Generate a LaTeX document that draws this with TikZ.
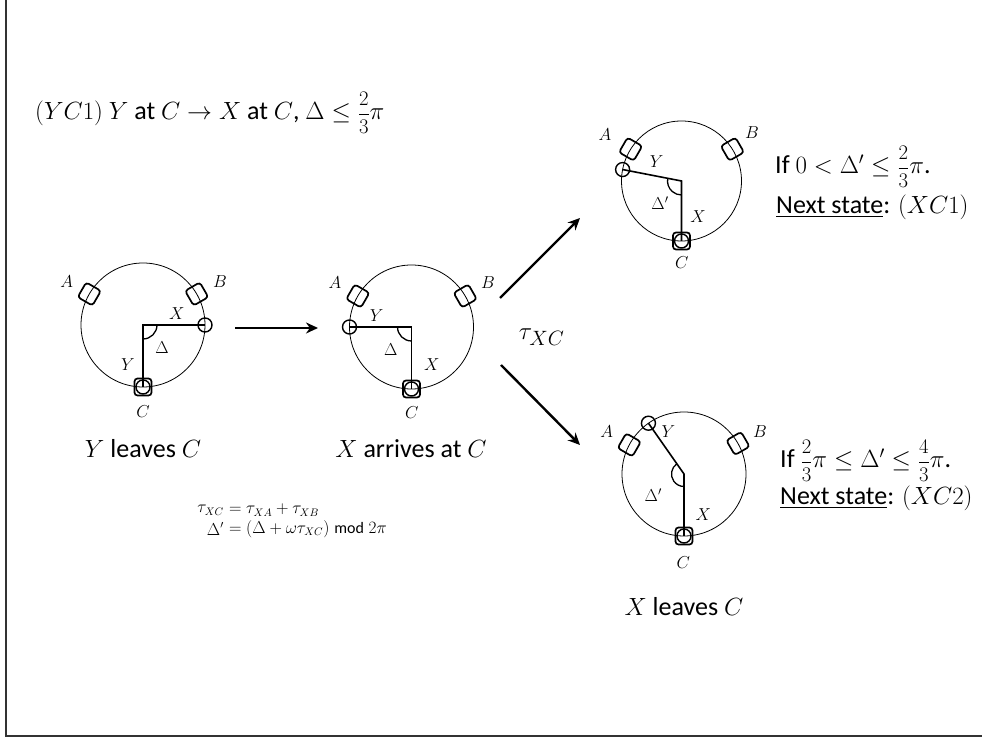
\documentclass[tikz,border=0pt]{standalone}
\usepackage{fontspec}
\setmainfont{Carlito}
\usepackage{amsmath}
\usetikzlibrary{calc,arrows.meta}
\newcommand\myfr[2]{\text{\fontsize{21}{22}\selectfont$\dfrac{#1}{#2}$}}
\tikzset{
  ring/.style={line width=0.8pt},
  stn/.style={draw, line width=1.7pt, rounded corners=3pt, minimum size=17pt, inner sep=0pt},
  rob/.style={draw, circle, line width=1.4pt, minimum size=14pt, inner sep=0pt},
  arm/.style={line width=1.6pt},
  ang/.style={line width=1.3pt},
  lab/.style={font=\fontsize{18}{21}\selectfont, inner sep=0pt},
  big/.style={font=\fontsize{26}{30}\selectfont, inner sep=0pt},
  small/.style={font=\fontsize{16}{18}\selectfont, inner sep=0pt},
  bigarrow/.style={line width=2.4pt, -{Stealth[length=12pt,width=11pt]}},
  frame/.style={line width=2pt, draw=black!80},
}
\begin{document}
\begin{tikzpicture}[x=1pt,y=1pt]
\useasboundingbox (0,0) rectangle (982,738);
\draw[frame] (6,738) -- (6,2) -- (982,2);

% ---------- title ----------
\node[big, anchor=west] (title) at (35,625) {$(YC1)$ $Y$ at $C\rightarrow X$ at $C$, $\Delta\leq\myfr{2}{3}\pi$};

% ---------- circle 1 ----------
\coordinate (c1) at (143,413);
\draw[ring] (c1) circle[radius=62];
\node[stn, rotate=60] (c1A) at ($(c1)+(150:62)$) {};
\node[stn, rotate=30] (c1B) at ($(c1)+(30:62)$) {};
\node[stn] (c1C) at ($(c1)+(270:62)$) {};
\node[rob] (c1Y) at (c1C) {};
\node[rob] (c1X) at ($(c1)+(0:62)$) {};
\draw[arm] (c1X.center) -- (c1) -- (c1C.center);
\draw[ang] ($(c1)+(270:14)$) arc[start angle=270, end angle=360, radius=14];
\node[lab] (c1lA) at (66.7,456) {$A$};
\node[lab] (c1lB) at (220,456) {$B$};
\node[lab] (c1lC) at (143,326) {$C$};
\node[lab] (c1lX) at (176.7,424) {$X$};
\node[lab] (c1lD) at (162,390) {$\Delta$};
\node[lab] (c1lY) at (128,373) {$Y$};
\node[big] (t1) at (143,289) {$Y$ leaves $C$};

% ---------- circle 2 ----------
\coordinate (c2) at (411.5,411);
\draw[ring] (c2) circle[radius=62];
\node[stn, rotate=60] (c2A) at ($(c2)+(150:62)$) {};
\node[stn, rotate=30] (c2B) at ($(c2)+(30:62)$) {};
\node[stn] (c2C) at ($(c2)+(270:62)$) {};
\node[rob] (c2X) at (c2C) {};
\node[rob] (c2Y) at ($(c2)+(180:62)$) {};
\draw[arm] (c2Y.center) -- (c2) -- (c2C.center);
\draw[ang] ($(c2)+(180:14)$) arc[start angle=180, end angle=270, radius=14];
\node[lab] (c2lA) at (335,455) {$A$};
\node[lab] (c2lB) at (488,455) {$B$};
\node[lab] (c2lY) at (376.7,422) {$Y$};
\node[lab] (c2lD) at (390.7,388) {$\Delta$};
\node[lab] (c2lX) at (431.7,373) {$X$};
\node[lab] (c2lC) at (411.7,325) {$C$};
\node[big] (t2) at (411,289) {$X$ arrives at $C$};

% ---------- circle 3 ----------
\coordinate (c3) at (681.5,557);
\draw[ring] (c3) circle[radius=60];
\node[stn, rotate=60] (c3A) at ($(c3)+(148:60)$) {};
\node[stn, rotate=30] (c3B) at ($(c3)+(32:60)$) {};
\node[stn] (c3C) at ($(c3)+(270:60)$) {};
\node[rob] (c3X) at (c3C) {};
\node[rob] (c3Y) at ($(c3)+(169:60)$) {};
\draw[arm] (c3Y.center) -- (c3) -- (c3C.center);
\draw[ang] ($(c3)+(169:14)$) arc[start angle=169, end angle=270, radius=14];
\node[lab] (c3lA) at (605,603) {$A$};
\node[lab] (c3lB) at (752,605) {$B$};
\node[lab] (c3lY) at (656.7,576) {$Y$};
\node[lab] (c3lD) at (660,535) {$\Delta'$};
\node[lab] (c3lX) at (698,521) {$X$};
\node[lab] (c3lC) at (681.7,475) {$C$};
\node[big, anchor=west] (r1a) at (775,571) {If $0<\Delta'\leq\myfr{2}{3}\pi$.};
\node[big, anchor=west] (r1b) at (776,531) {\underline{Next state}: $(XC1)$};

% ---------- circle 4 ----------
\coordinate (c4) at (684,264);
\draw[ring] (c4) circle[radius=62];
\node[stn, rotate=60] (c4A) at ($(c4)+(152:62)$) {};
\node[stn, rotate=30] (c4B) at ($(c4)+(29.5:62)$) {};
\node[stn] (c4C) at ($(c4)+(270:62)$) {};
\node[rob] (c4X) at (c4C) {};
\node[rob] (c4Y) at ($(c4)+(125:62)$) {};
\draw[arm] (c4Y.center) -- (c4) -- (c4C.center);
\draw[ang] ($(c4)+(125:12.5)$) arc[start angle=125, end angle=270, radius=12.5];
\node[lab] (c4lA) at (606.7,306) {$A$};
\node[lab] (c4lB) at (760,306) {$B$};
\node[lab] (c4lY) at (668.3,306) {$Y$};
\node[lab] (c4lD) at (653.3,243) {$\Delta'$};
\node[lab] (c4lX) at (703.3,223) {$X$};
\node[lab] (c4lC) at (683.3,175) {$C$};
\node[big] (t4) at (684,131) {$X$ leaves $C$};
\node[big, anchor=west] (r2a) at (780,277) {If $\myfr{2}{3}\pi\leq\Delta'\leq\myfr{4}{3}\pi$.};
\node[big, anchor=west] (r2b) at (780,240) {\underline{Next state}: $(XC2)$};

% ---------- arrows ----------
\coordinate (a1s) at (235,410);
\coordinate (a1e) at (318,410);
\coordinate (a2s) at (500,440);
\coordinate (a2e) at (580,520);
\coordinate (a3s) at (501,373);
\coordinate (a3e) at (580,293);
\draw[bigarrow] (a1s) -- (a1e);
\draw[bigarrow] (a2s) -- (a2e);
\draw[bigarrow] (a3s) -- (a3e);
\node[font=\fontsize{28}{32}\selectfont, inner sep=0pt] (tau) at (541.7,401) {$\tau_{XC}$};

% ---------- formula ----------
\node[small, anchor=east] (f1l) at (224,228) {$\tau_{XC}$};
\node[small, anchor=west] (f1r) at (224,228) {${}=\tau_{XA}+\tau_{XB}$};
\node[small, anchor=east] (f2l) at (224,209) {$\Delta'$};
\node[small, anchor=west] (f2r) at (224,209) {${}=(\Delta+\omega\tau_{XC})\bmod 2\pi$};
\end{tikzpicture}
\end{document}
